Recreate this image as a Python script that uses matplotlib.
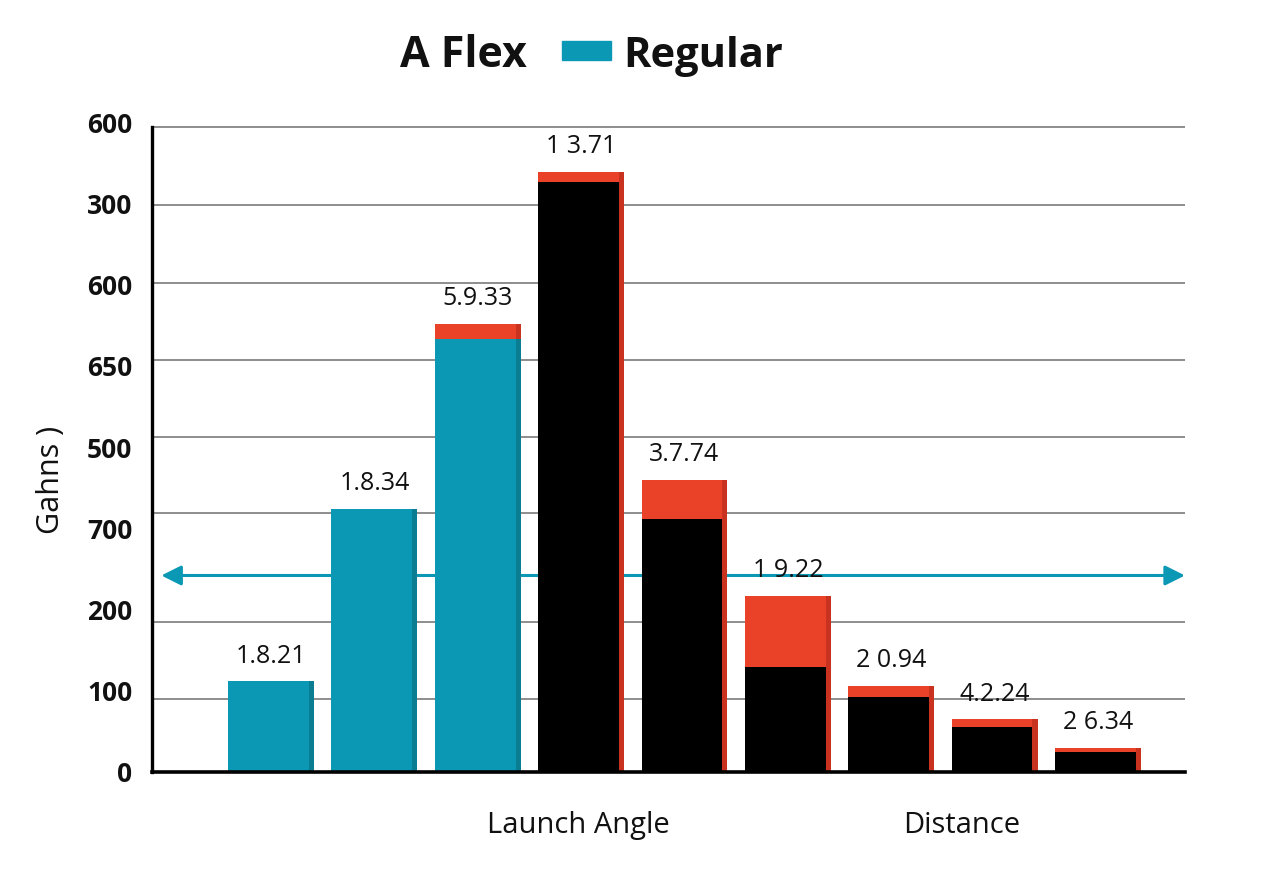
import matplotlib
matplotlib.use("Agg")
import matplotlib.pyplot as plt
from matplotlib.patches import Rectangle

# ---------------- data ----------------
bar_index = [0, 1, 2, 3, 4, 5, 6, 7, 8]
base_values = [112, 324, 533, 727, 312, 129, 92, 55, 25]
total_values = [112, 324, 552, 739, 360, 217, 106, 65, 30]
base_kind = ["Regular", "Regular", "Regular", "A Flex", "A Flex", "A Flex", "A Flex", "A Flex", "A Flex"]
value_labels = ["1.8.21", "1.8.34", "5.9.33", "1 3.71", "3.7.74", "1 9.22", "2 0.94", "4.2.24", "2 6.34"]

ytick_values = [0, 100, 200, 300, 400, 500, 600, 700, 800]
ytick_labels = ["0", "100", "200", "700", "500", "650", "600", "300", "600"]
grid_levels = [90, 185, 319, 413, 507, 602, 698, 794]
reference_level = 242

group_positions = [2.97, 6.68]
group_labels = ["Launch Angle", "Distance"]

title_left = "A Flex"
legend_label = "Regular"
y_label = "Gahns )"

# ---------------- style ----------------
TEAL = "#0b98b4"
TEAL_DARK = "#0a7d93"
RED = "#ea4129"
RED_DARK = "#c8321f"
BLACK = "#000000"
GRID = "#7a7a7a"

plt.rcParams["font.family"] = ["Open Sans", "DejaVu Sans"]

fig = plt.figure(figsize=(12.8, 8.96), dpi=100)
ax = fig.add_axes([0.11875, 0.1384, 0.807, 0.725])

width = 0.83
strip = 0.05

ax.set_xlim(-1.151, 8.84)
ax.set_ylim(0, 800)

# gridlines
for g in grid_levels:
    ax.axhline(g, color=GRID, lw=1.2, zorder=1)

# reference arrow
x0, x1 = ax.get_xlim()
ax.annotate("", xy=(x0 + 0.09, reference_level), xytext=(x1, reference_level),
            arrowprops=dict(arrowstyle="<|-|>", color=TEAL, lw=2.2,
                            mutation_scale=30, shrinkA=0, shrinkB=0),
            zorder=2, annotation_clip=False)

for i, b, t, k, lab in zip(bar_index, base_values, total_values, base_kind, value_labels):
    left = i - width / 2
    if t > b:
        ax.bar(left, t, width=width, align="edge", color=RED, zorder=3, lw=0)
        ax.bar(left + width - strip, t, width=strip, align="edge", color=RED_DARK, zorder=3, lw=0)
    if k == "Regular":
        ax.bar(left, b, width=width, align="edge", color=TEAL, zorder=4, lw=0)
        ax.bar(left + width - strip, b, width=strip, align="edge", color=TEAL_DARK, zorder=4, lw=0)
    else:
        ax.bar(left, b, width=width - strip, align="edge", color=BLACK, zorder=4, lw=0)
    ax.annotate(lab, xy=(i, t), xytext=(0, 9), textcoords="offset points",
                ha="center", va="bottom", fontsize=18, color="#111111", zorder=6)

# spines
for s in ["top", "right"]:
    ax.spines[s].set_visible(False)
ax.spines["left"].set_linewidth(2.4)
ax.spines["bottom"].set_linewidth(2.6)
ax.spines["left"].set_bounds(0, grid_levels[-1])
ax.spines["left"].set_zorder(5)
ax.spines["bottom"].set_zorder(5)

ax.set_yticks(ytick_values)
ax.set_yticklabels(ytick_labels, fontsize=19, fontweight="bold", color="#111111")
ax.tick_params(axis="y", length=0, pad=14)

ax.set_xticks(group_positions)
ax.set_xticklabels(group_labels, fontsize=21, color="#111111")
ax.tick_params(axis="x", length=0, pad=28)

ax.set_ylabel(y_label, fontsize=22, color="#111111")
ax.yaxis.set_label_coords(-0.083, 0.45)

# title / legend row
fig.text(0.3125, 0.925, title_left, fontsize=31, fontweight="bold", ha="left", va="baseline", color="#111111")
fig.patches.append(Rectangle((562 / 1280, 1 - 60 / 896), 49 / 1280, 19 / 896,
                             transform=fig.transFigure, color=TEAL, figure=fig))
fig.text(0.487, 0.925, legend_label, fontsize=30, fontweight="bold", ha="left", va="baseline", color="#111111")

fig.savefig("out.png", dpi=100, facecolor="white")
